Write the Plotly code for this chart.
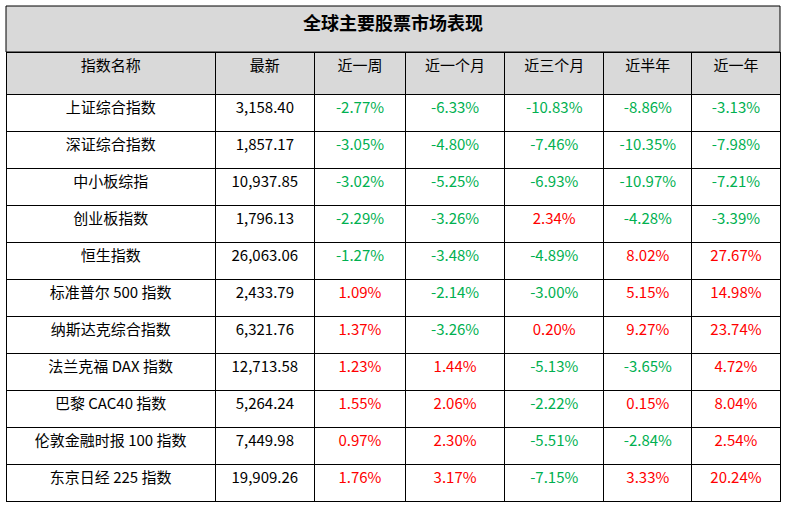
import plotly.graph_objects as go

title = '全球主要股票市场表现'
headers = ['指数名称', '最新', '近一周', '近一个月', '近三个月', '近半年', '近一年']

index_names = ['上证综合指数', '深证综合指数', '中小板综指', '创业板指数', '恒生指数',
               '标准普尔 500 指数', '纳斯达克综合指数', '法兰克福 DAX 指数',
               '巴黎 CAC40 指数', '伦敦金融时报 100 指数', '东京日经 225 指数']
latest = [3158.40, 1857.17, 10937.85, 1796.13, 26063.06, 2433.79,
          6321.76, 12713.58, 5264.24, 7449.98, 19909.26]
chg_1w = [-2.77, -3.05, -3.02, -2.29, -1.27, 1.09, 1.37, 1.23, 1.55, 0.97, 1.76]
chg_1m = [-6.33, -4.80, -5.25, -3.26, -3.48, -2.14, -3.26, 1.44, 2.06, 2.30, 3.17]
chg_3m = [-10.83, -7.46, -6.93, 2.34, -4.89, -3.00, 0.20, -5.13, -2.22, -5.51, -7.15]
chg_6m = [-8.86, -10.35, -10.97, -4.28, 8.02, 5.15, 9.27, -3.65, 0.15, -2.84, 3.33]
chg_1y = [-3.13, -7.98, -7.21, -3.39, 27.67, 14.98, 23.74, 4.72, 8.04, 2.54, 20.24]

W, H = 786, 506
left, right = 6, 780
top, title_bottom, bottom = 6, 52, 504

GREEN = '#00B050'
RED = '#FF0000'
FONT = 'Noto Sans CJK SC'

def colors(vals):
    return [RED if v > 0 else GREEN for v in vals]

pct_cols = [chg_1w, chg_1m, chg_3m, chg_6m, chg_1y]
font_colors = [['black'] * len(index_names), ['black'] * len(latest)] + [colors(c) for c in pct_cols]

fig = go.Figure(go.Table(
    domain=dict(x=[left / W, right / W], y=[(H - bottom) / H, (H - title_bottom) / H]),
    columnwidth=[209, 99, 91, 99, 99, 88, 88],
    header=dict(
        values=headers,
        fill_color='#D9D9D9',
        line=dict(color='black', width=1),
        font=dict(family=FONT, size=15, color='black'),
        align='center',
        height=42,
    ),
    cells=dict(
        values=[index_names, latest] + pct_cols,
        format=[None, ',.2f'] + ['.2f'] * 5,
        suffix=[None, None] + ['%'] * 5,
        fill_color='white',
        line=dict(color='black', width=1),
        font=dict(family=FONT, size=15, color=font_colors),
        align='center',
        height=37,
    ),
))

# title bar above the table
fig.add_shape(type='rect', xref='paper', yref='paper',
              x0=left / W, x1=right / W, y0=(H - title_bottom) / H, y1=(H - top) / H,
              fillcolor='#D9D9D9', line=dict(color='black', width=1), layer='below')
fig.add_annotation(text='<b>' + title + '</b>', xref='paper', yref='paper',
                   x=0.5 * (left + right) / W, y=(H - 22) / H,
                   xanchor='center', yanchor='middle', showarrow=False,
                   font=dict(family=FONT, size=18, color='black'))

fig.update_layout(
    width=W, height=H,
    margin=dict(l=0, r=0, t=0, b=0),
    paper_bgcolor='white',
)

fig.write_html('out.html', config={'displayModeBar': False},
               post_script="document.body.style.margin='0';")
